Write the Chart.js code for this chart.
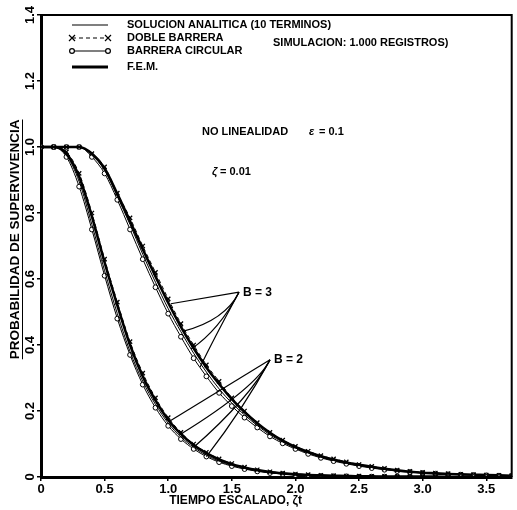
<!DOCTYPE html>
<html>
<head>
<meta charset="utf-8">
<script src="https://cdn.jsdelivr.net/npm/chart.js@4.4.1/dist/chart.umd.min.js"></script>
<style>
  html, body { margin: 0; padding: 0; background: #fff; }
  #wrap { width: 517px; height: 510px; }
</style>
</head>
<body>
<div id="wrap"><canvas id="grafico"></canvas></div>
<script>
// tiempo escalado (zeta * t)
const tiempo = [0,0.1,0.2,0.3,0.4,0.5,0.6,0.7,0.8,0.9,1.0,1.1,1.2,1.3,1.4,1.5,1.6,1.7,1.8,1.9,
  2.0,2.1,2.2,2.3,2.4,2.5,2.6,2.7,2.8,2.9,3.0,3.1,3.2,3.3,3.4,3.5,3.6,3.7];
const ticksX = [0, 0.5, 1.0, 1.5, 2.0, 2.5, 3.0, 3.5];
const ticksY = [0, 0.2, 0.4, 0.6, 0.8, 1.0, 1.2, 1.4];

// B = 2
const b2Circular = [1.0,1.0,0.97,0.88,0.75,0.61,0.48,0.37,0.28,0.21, 0.155,0.115,0.085,0.062,0.045,0.033,0.024,0.017,0.012,0.009,
  0.006,0.004,0.003,0.002,0.002,0.001,0.001,0.001,0.001,0.001, 0,0,0,0,0,0,0,0];
const b2Analitica = [1.0,1.0,0.975,0.895,0.765,0.625,0.495,0.38,0.29,0.22, 0.163,0.121,0.09,0.066,0.048,0.035,0.026,0.019,0.013,0.01,
  0.007,0.005,0.004,0.003,0.002,0.002,0.001,0.001,0.001,0.001, 0.001,0,0,0,0,0,0,0];
const b2Doble = [1.0,1.0,0.985,0.92,0.80,0.66,0.53,0.41,0.315,0.24, 0.18,0.135,0.10,0.075,0.055,0.041,0.03,0.022,0.016,0.012,
  0.009,0.007,0.005,0.004,0.003,0.003,0.002,0.002,0.001,0.001, 0.001,0.001,0.001,0,0,0,0,0];
const b2Fem = [1.0,1.0,0.98,0.91,0.79,0.65,0.52,0.40,0.305,0.232, 0.173,0.13,0.097,0.072,0.053,0.039,0.029,0.021,0.015,0.011,
  0.008,0.006,0.005,0.004,0.003,0.002,0.002,0.001,0.001,0.001, 0.001,0.001,0,0,0,0,0,0];

// B = 3
const b3Circular = [1.0,1.0,1.0,1.0,0.97,0.92,0.84,0.75,0.66,0.575, 0.495,0.425,0.36,0.305,0.255,0.215,0.18,0.15,0.123,0.102,
  0.085,0.07,0.058,0.048,0.04,0.033,0.027,0.022,0.018,0.015, 0.012,0.01,0.008,0.007,0.006,0.005,0.004,0.003];
const b3Analitica = [1.0,1.0,1.0,1.0,0.975,0.93,0.85,0.765,0.675,0.59, 0.51,0.44,0.375,0.318,0.267,0.224,0.188,0.156,0.128,0.106,
  0.088,0.073,0.06,0.05,0.042,0.035,0.029,0.024,0.019,0.016, 0.013,0.011,0.009,0.007,0.006,0.005,0.004,0.003];
const b3Doble = [1.0,1.0,1.0,1.0,0.98,0.94,0.86,0.785,0.70,0.62, 0.54,0.465,0.40,0.34,0.29,0.24,0.20,0.165,0.135,0.112,
  0.093,0.078,0.065,0.055,0.046,0.038,0.032,0.026,0.021,0.017, 0.014,0.012,0.01,0.008,0.007,0.006,0.005,0.004];
const b3Fem = [1.0,1.0,1.0,1.0,0.98,0.935,0.858,0.775,0.69,0.608, 0.528,0.455,0.39,0.332,0.282,0.236,0.197,0.163,0.134,0.11,
  0.091,0.076,0.063,0.053,0.044,0.037,0.031,0.025,0.02,0.016, 0.013,0.011,0.009,0.008,0.007,0.006,0.005,0.004];

// puntos donde terminan las flechas de B=3 y B=2 (tiempo, serie)
const flechasB3 = [[1.02, b3Doble], [1.12, b3Fem], [1.18, b3Analitica], [1.25, b3Circular]];
const flechasB2 = [[1.02, b2Doble], [1.1, b2Fem], [1.2, b2Analitica], [1.3, b2Circular]];

const leyenda = ['SOLUCION ANALITICA (10 TERMINOS)', 'DOBLE BARRERA', 'BARRERA CIRCULAR', 'F.E.M.'];

const pares = (serie) => tiempo.map((t, i) => ({x: t, y: serie[i]}));
const valorEn = (t, serie) => {
  const i = Math.min(Math.floor(t * 10), tiempo.length - 2);
  const f = (t - tiempo[i]) / (tiempo[i + 1] - tiempo[i]);
  return serie[i] + (serie[i + 1] - serie[i]) * f;
};

function lineaFem(serie) {
  return { data: pares(serie), borderColor: '#000', borderWidth: 2.6, pointRadius: 0, cubicInterpolationMode: 'monotone' };
}
function lineaAnalitica(serie) {
  return { data: pares(serie), borderColor: '#000', borderWidth: 1, pointRadius: 0, cubicInterpolationMode: 'monotone' };
}
function lineaDoble(serie) {
  return { data: pares(serie), borderColor: '#000', borderWidth: 1, borderDash: [4, 3],
    pointStyle: 'crossRot', pointRadius: 3, pointBorderWidth: 1.3, pointBorderColor: '#000', cubicInterpolationMode: 'monotone' };
}
function lineaCircular(serie) {
  return { data: pares(serie), borderColor: '#000', borderWidth: 1,
    pointStyle: 'circle', pointRadius: 2.4, pointBorderWidth: 1, pointBorderColor: '#000', pointBackgroundColor: '#fff',
    cubicInterpolationMode: 'monotone' };
}

const FUENTE = '"Liberation Sans", Arial, sans-serif';

const anotaciones = {
  id: 'anotaciones',
  afterDraw(chart) {
    const {ctx, chartArea: a, scales: {x, y}} = chart;
    ctx.save();
    ctx.strokeStyle = '#000';
    ctx.fillStyle = '#000';

    // marco superior y derecho
    ctx.lineWidth = 2;
    ctx.beginPath();
    ctx.moveTo(a.left, a.top);
    ctx.lineTo(a.right, a.top);
    ctx.lineTo(a.right, a.bottom);
    ctx.stroke();

    // etiquetas del eje y (giradas)
    ctx.font = 'bold 13px ' + FUENTE;
    ctx.textAlign = 'center';
    ctx.textBaseline = 'middle';
    y.ticks.forEach(tk => {
      const py = y.getPixelForValue(tk.value);
      ctx.save();
      ctx.translate(a.left - 11, py);
      ctx.rotate(-Math.PI / 2);
      ctx.fillText(tk.value === 0 ? '0' : tk.value.toFixed(1), 0, 0);
      ctx.restore();
    });

    // titulo eje y, subrayado
    ctx.save();
    ctx.translate(a.left - 26, y.getPixelForValue(0.72));
    ctx.rotate(-Math.PI / 2);
    ctx.font = 'bold 13.5px ' + FUENTE;
    const tituloY = 'PROBABILIDAD DE SUPERVIVENCIA';
    ctx.fillText(tituloY, 0, 0);
    const w = ctx.measureText(tituloY).width;
    ctx.lineWidth = 1;
    ctx.beginPath();
    ctx.moveTo(-w / 2, 7.5);
    ctx.lineTo(w / 2, 7.5);
    ctx.stroke();
    ctx.restore();

    // titulo eje x
    ctx.font = 'bold 12px ' + FUENTE;
    ctx.textAlign = 'center';
    ctx.fillText('TIEMPO ESCALADO, ζt', x.getPixelForValue(1.53), a.bottom + 24);

    // leyenda
    const x0 = a.left + 31, x1 = a.left + 67, xt = a.left + 86;
    const filas = [a.top + 10, a.top + 23, a.top + 36, a.top + 52];
    ctx.textAlign = 'left';
    ctx.font = 'bold 11px ' + FUENTE;
    leyenda.forEach((txt, i) => ctx.fillText(txt, xt, filas[i]));
    ctx.lineWidth = 1.2;
    ctx.beginPath(); ctx.moveTo(x0, filas[0]); ctx.lineTo(x1, filas[0]); ctx.stroke();
    ctx.setLineDash([4, 3]);
    ctx.beginPath(); ctx.moveTo(x0, filas[1]); ctx.lineTo(x1, filas[1]); ctx.stroke();
    ctx.setLineDash([]);
    [x0, x1].forEach(px => {
      ctx.beginPath();
      ctx.moveTo(px - 3, filas[1] - 3); ctx.lineTo(px + 3, filas[1] + 3);
      ctx.moveTo(px - 3, filas[1] + 3); ctx.lineTo(px + 3, filas[1] - 3);
      ctx.stroke();
    });
    ctx.beginPath(); ctx.moveTo(x0, filas[2]); ctx.lineTo(x1, filas[2]); ctx.stroke();
    [x0, x1].forEach(px => {
      ctx.beginPath(); ctx.arc(px, filas[2], 2.4, 0, Math.PI * 2);
      ctx.fillStyle = '#fff'; ctx.fill(); ctx.stroke();
    });
    ctx.fillStyle = '#000';
    ctx.lineWidth = 2.8;
    ctx.beginPath(); ctx.moveTo(x0, filas[3]); ctx.lineTo(x1, filas[3]); ctx.stroke();

    // textos
    ctx.font = 'bold 11px ' + FUENTE;
    ctx.fillText('SIMULACION: 1.000 REGISTROS)', a.left + 232, a.top + 28);
    ctx.fillText('NO LINEALIDAD', a.left + 161, a.top + 117);
    ctx.font = 'bold italic 11px ' + FUENTE;
    ctx.fillText('ε', a.left + 268, a.top + 117);
    ctx.font = 'bold 11px ' + FUENTE;
    ctx.fillText('= 0.1', a.left + 278, a.top + 117);
    ctx.font = 'bold italic 11px ' + FUENTE;
    ctx.fillText('ζ', a.left + 171, a.top + 157);
    ctx.font = 'bold 11px ' + FUENTE;
    ctx.fillText('= 0.01', a.left + 179, a.top + 157);

    // flechas B = 3 y B = 2
    const flechas = (lista, ox, oy, etiqueta) => {
      ctx.lineWidth = 1.2;
      lista.forEach(([t, serie], i) => {
        const px = x.getPixelForValue(t), py = y.getPixelForValue(valorEn(t, serie));
        ctx.beginPath();
        ctx.moveTo(ox, oy);
        if (i === 0) ctx.lineTo(px, py);
        else ctx.quadraticCurveTo(ox - 8 - i * 6, oy + 18 + i * 10, px, py);
        ctx.stroke();
      });
      ctx.font = 'bold 12px ' + FUENTE;
      ctx.textAlign = 'left';
      ctx.fillText(etiqueta, ox + 4, oy);
    };
    flechas(flechasB3, a.left + 198, y.getPixelForValue(0.56), 'B = 3');
    flechas(flechasB2, a.left + 229, y.getPixelForValue(0.355), 'B = 2');

    ctx.restore();
  }
};

new Chart(document.getElementById('grafico').getContext('2d'), {
  type: 'line',
  plugins: [anotaciones],
  data: {
    datasets: [
      lineaFem(b2Fem), lineaAnalitica(b2Analitica), lineaDoble(b2Doble), lineaCircular(b2Circular),
      lineaFem(b3Fem), lineaAnalitica(b3Analitica), lineaDoble(b3Doble), lineaCircular(b3Circular)
    ]
  },
  options: {
    responsive: true,
    maintainAspectRatio: false,
    animation: false,
    layout: { padding: { left: 0, right: 4, top: 15, bottom: 0 } },
    scales: {
      x: {
        type: 'linear',
        min: 0, max: 3.7,
        border: { display: true, color: '#000', width: 3 },
        grid: { display: true, drawOnChartArea: false, drawTicks: true, tickLength: 4, color: '#000', lineWidth: 1.5 },
        ticks: {
          color: '#000', padding: 1, maxRotation: 0, autoSkip: false,
          font: { family: FUENTE, size: 13, weight: 'bold' },
          callback: v => v === 0 ? '0' : v.toFixed(1)
        },
        afterBuildTicks: s => { s.ticks = ticksX.map(v => ({value: v})); },
        afterFit: s => { s.height = 33; }
      },
      y: {
        min: 0, max: 1.4,
        border: { display: true, color: '#000', width: 3 },
        grid: { display: true, drawOnChartArea: false, drawTicks: true, tickLength: 4, color: '#000', lineWidth: 1.5 },
        ticks: { display: false },
        afterBuildTicks: s => { s.ticks = ticksY.map(v => ({value: v})); },
        afterFit: s => { s.width = 41; }
      }
    },
    plugins: {
      legend: { display: false },
      tooltip: { enabled: false }
    }
  }
});
</script>
</body>
</html>
